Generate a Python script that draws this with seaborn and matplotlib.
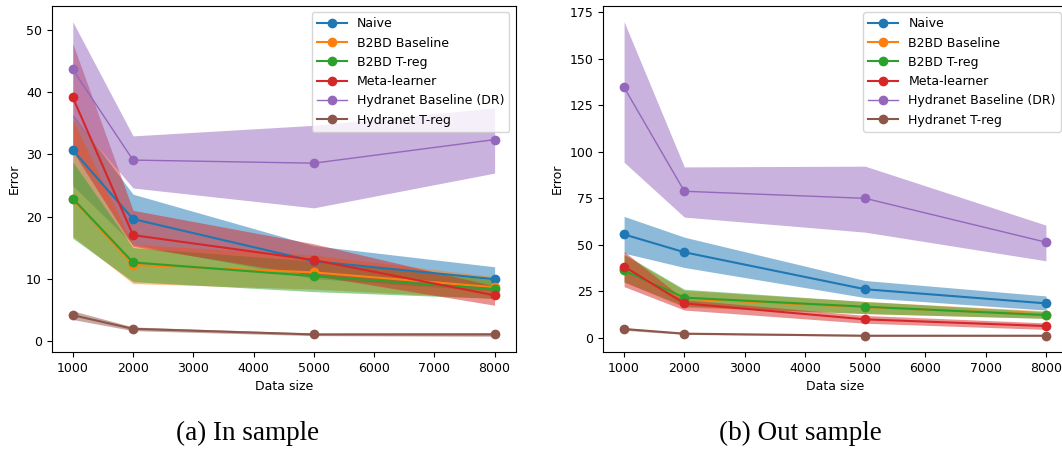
import numpy as np
import pandas as pd
import matplotlib
matplotlib.use("Agg")
import matplotlib.pyplot as plt
import seaborn as sns

sizes = [1000, 2000, 5000, 8000]
methods = ["Naive", "B2BD Baseline", "B2BD T-reg", "Meta-learner",
           "Hydranet Baseline (DR)", "Hydranet T-reg"]

# ---- In sample ----
in_naive = [30.7, 19.6, 12.8, 9.9]
in_naive_lo = [25.0, 15.5, 10.0, 8.0]
in_naive_hi = [36.5, 23.6, 15.3, 11.9]
in_b2bd = [22.8, 12.2, 11.0, 8.6]
in_b2bd_lo = [16.8, 9.2, 8.3, 6.8]
in_b2bd_hi = [35.5, 15.5, 13.8, 10.3]
in_treg = [22.9, 12.6, 10.4, 8.3]
in_treg_lo = [16.5, 9.5, 7.9, 6.8]
in_treg_hi = [28.8, 15.0, 12.8, 9.8]
in_meta = [39.2, 17.0, 13.0, 7.3]
in_meta_lo = [30.5, 15.2, 10.5, 5.7]
in_meta_hi = [47.9, 21.0, 15.6, 8.8]
in_hdr = [43.7, 29.1, 28.6, 32.4]
in_hdr_lo = [36.0, 24.6, 21.4, 27.0]
in_hdr_hi = [51.4, 33.0, 34.7, 37.5]
in_htreg = [4.1, 1.9, 1.0, 1.0]
in_htreg_lo = [3.4, 1.6, 0.8, 0.7]
in_htreg_hi = [4.8, 2.2, 1.2, 1.3]

# ---- Out sample ----
out_naive = [55.6, 46.0, 26.1, 18.5]
out_naive_lo = [45.5, 37.8, 21.6, 14.9]
out_naive_hi = [65.3, 54.1, 30.8, 22.5]
out_b2bd = [37.0, 21.0, 16.5, 12.5]
out_b2bd_lo = [30.0, 16.5, 13.0, 10.5]
out_b2bd_hi = [44.5, 25.5, 19.5, 14.5]
out_treg = [36.2, 21.6, 16.7, 12.2]
out_treg_lo = [30.0, 17.0, 13.0, 10.4]
out_treg_hi = [45.0, 26.1, 19.5, 14.0]
out_meta = [38.3, 18.5, 9.9, 6.3]
out_meta_lo = [27.5, 14.9, 7.8, 4.5]
out_meta_hi = [46.4, 20.5, 12.0, 8.0]
out_hdr = [134.7, 78.8, 75.0, 51.4]
out_hdr_lo = [94.4, 64.9, 56.8, 41.4]
out_hdr_hi = [170.0, 91.9, 92.3, 60.6]
out_htreg = [4.7, 2.2, 1.1, 1.1]
out_htreg_lo = [4.0, 1.8, 0.8, 0.8]
out_htreg_hi = [5.4, 2.6, 1.4, 1.4]

panels = [
    ("(a) In sample",
     [in_naive, in_b2bd, in_treg, in_meta, in_hdr, in_htreg],
     [in_naive_lo, in_b2bd_lo, in_treg_lo, in_meta_lo, in_hdr_lo, in_htreg_lo],
     [in_naive_hi, in_b2bd_hi, in_treg_hi, in_meta_hi, in_hdr_hi, in_htreg_hi]),
    ("(b) Out sample",
     [out_naive, out_b2bd, out_treg, out_meta, out_hdr, out_htreg],
     [out_naive_lo, out_b2bd_lo, out_treg_lo, out_meta_lo, out_hdr_lo, out_htreg_lo],
     [out_naive_hi, out_b2bd_hi, out_treg_hi, out_meta_hi, out_hdr_hi, out_htreg_hi]),
]

palette = sns.color_palette("tab10", 6)
W, H = 1062, 450
fig = plt.figure(figsize=(W / 100, H / 100), dpi=100)
axes_px = [(51.7, 6, 464, 346), (603, 6, 464, 346)]
caption_x = [248, 800]

for (title, means, los, his), (l, t, w, h), cx in zip(panels, axes_px, caption_x):
    ax = fig.add_axes([l / W, (H - t - h) / H, w / W, h / H])
    rows = []
    for m, vals in zip(methods, means):
        for s, v in zip(sizes, vals):
            rows.append({"Data size": s, "Error": v, "method": m})
    df = pd.DataFrame(rows)
    for i, (lo, hi) in enumerate(zip(los, his)):
        ax.fill_between(sizes, lo, hi, color=palette[i], alpha=0.5,
                        linewidth=0, zorder=1)
    sns.lineplot(data=df, x="Data size", y="Error", hue="method",
                 hue_order=methods, palette=palette, marker="o",
                 markersize=7, markeredgewidth=0, linewidth=1.5,
                 errorbar=None, legend=False, ax=ax, zorder=2)
    lines = ax.lines[-6:]
    lines[4].set_linewidth(1.0)
    ax.legend(lines, methods, loc="upper right", fontsize=9, handlelength=2.4)
    ax.set_xlabel("Data size", fontsize=9)
    ax.set_ylabel("Error", fontsize=9)
    ax.tick_params(labelsize=9)
    ax.margins(x=0.05, y=0.05)
    fig.text(cx / W, (H - 440) / H, title, ha="center", va="baseline",
             fontsize=19.5, family="Liberation Serif")

fig.savefig("out.png", dpi=100)
